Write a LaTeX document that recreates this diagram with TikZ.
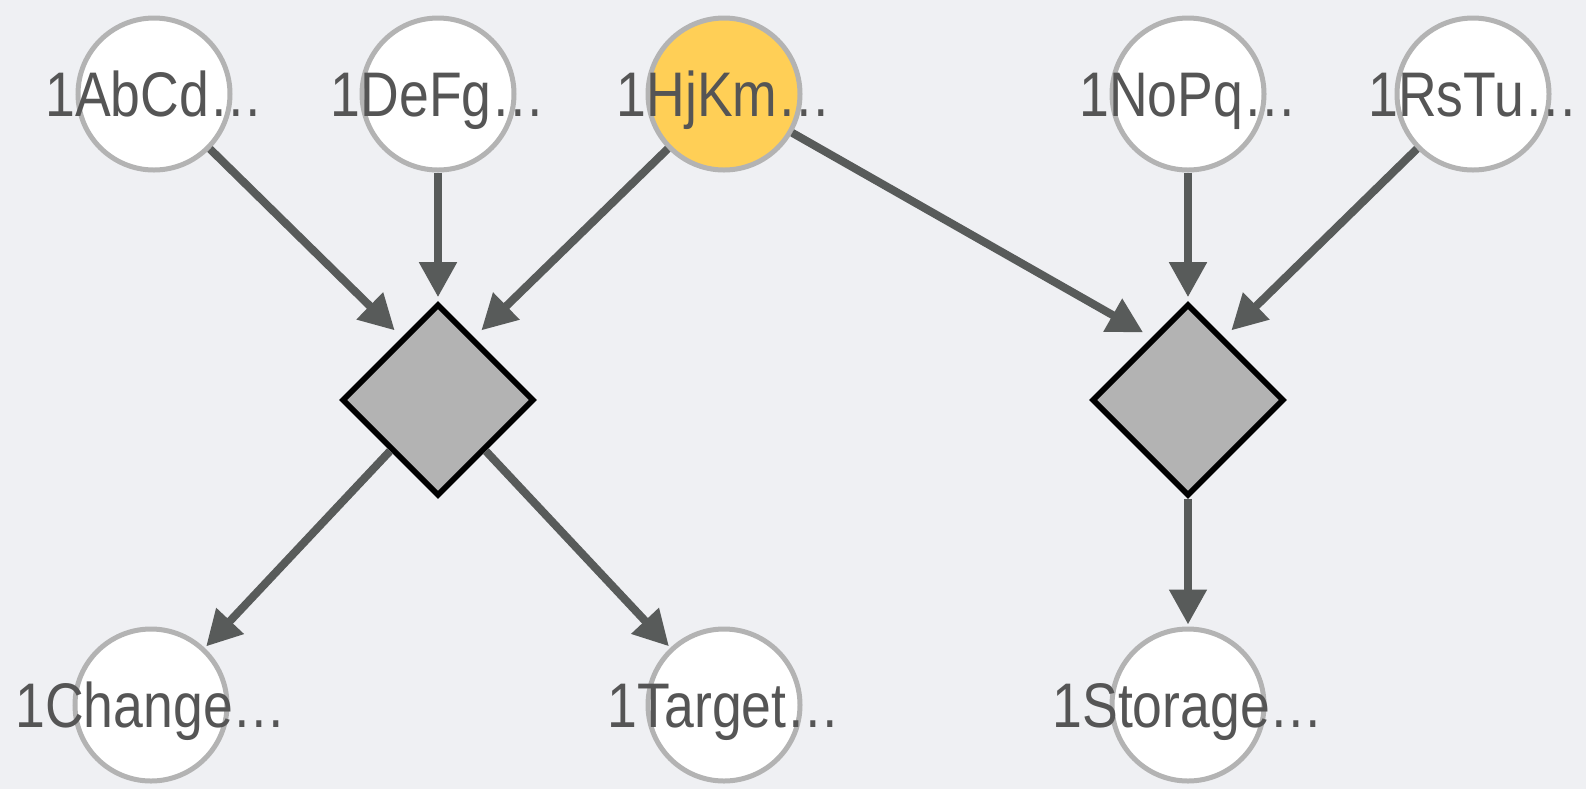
\documentclass[tikz,border=0pt]{standalone}
\usepackage{fontspec}
\setmainfont{Liberation Sans}
\newfontfamily\lblfont{Liberation Sans}[FakeStretch=0.85]
\usetikzlibrary{shapes.geometric,arrows.meta}
\definecolor{bgcol}{HTML}{EFF0F3}
\definecolor{ringcol}{HTML}{B3B3B3}
\definecolor{edgecol}{HTML}{585B5A}
\definecolor{txtcol}{HTML}{555555}
\definecolor{goldcol}{HTML}{FFCF56}
\begin{document}
\begin{tikzpicture}[x=0.5pt,y=-0.5pt,
    ent/.style={circle,draw=ringcol,line width=2.5pt,fill=white,minimum size=76pt,inner sep=0pt},
    lbl/.style={font=\lblfont\fontsize{31.5pt}{31.5pt}\selectfont,text=txtcol,text height=22.5pt,text depth=0pt,inner sep=0pt},
    gate/.style={diamond,draw=black,line width=2.8pt,fill=ringcol,minimum size=96pt,inner sep=0pt,aspect=1},
    flow/.style={draw=edgecol,line width=4pt,-{Triangle[length=17.5pt,width=18pt]},shorten >=5pt},
    straight/.style={shorten >=2pt},
    tocirc/.style={shorten >=1pt}]
    \fill[bgcol] (0,0) rectangle (1586,789);
    \useasboundingbox (0,0) rectangle (1586,789);
    \node[ent] (ab) at (154,94) {};
    \node[ent] (de) at (438,94) {};
    \node[ent,fill=goldcol] (hj) at (724,94) {};
    \node[ent] (no) at (1188,94) {};
    \node[ent] (rs) at (1473,94) {};
    \node[gate] (d1) at (438,400) {};
    \node[gate] (d2) at (1188,400) {};
    \node[ent] (ch) at (151,705) {};
    \node[ent] (ta) at (724,705) {};
    \node[ent] (st) at (1188,705) {};
    \node[lbl] (abl) at (ab) {1AbCd…};
    \node[lbl] (del) at (de) {1DeFg…};
    \node[lbl] (hjl) at (hj) {1HjKm…};
    \node[lbl] (nol) at (no) {1NoPq…};
    \node[lbl] (rsl) at (rs) {1RsTu…};
    \node[lbl] (chl) at (ch) {1Change…};
    \node[lbl] (tal) at (ta) {1Target…};
    \node[lbl] (stl) at (st) {1Storage…};
    \draw[flow] (ab) -- (d1.120);
    \draw[flow,straight] (de) -- (d1);
    \draw[flow] (hj) -- (d1.60);
    \draw[flow] (hj) -- (d2.120);
    \draw[flow,straight] (no) -- (d2);
    \draw[flow] (rs) -- (d2.60);
    \draw[flow,tocirc] (d1) -- (ch);
    \draw[flow,tocirc] (d1) -- (ta);
    \draw[flow,tocirc] (d2) -- (st);
\end{tikzpicture}
\end{document}
